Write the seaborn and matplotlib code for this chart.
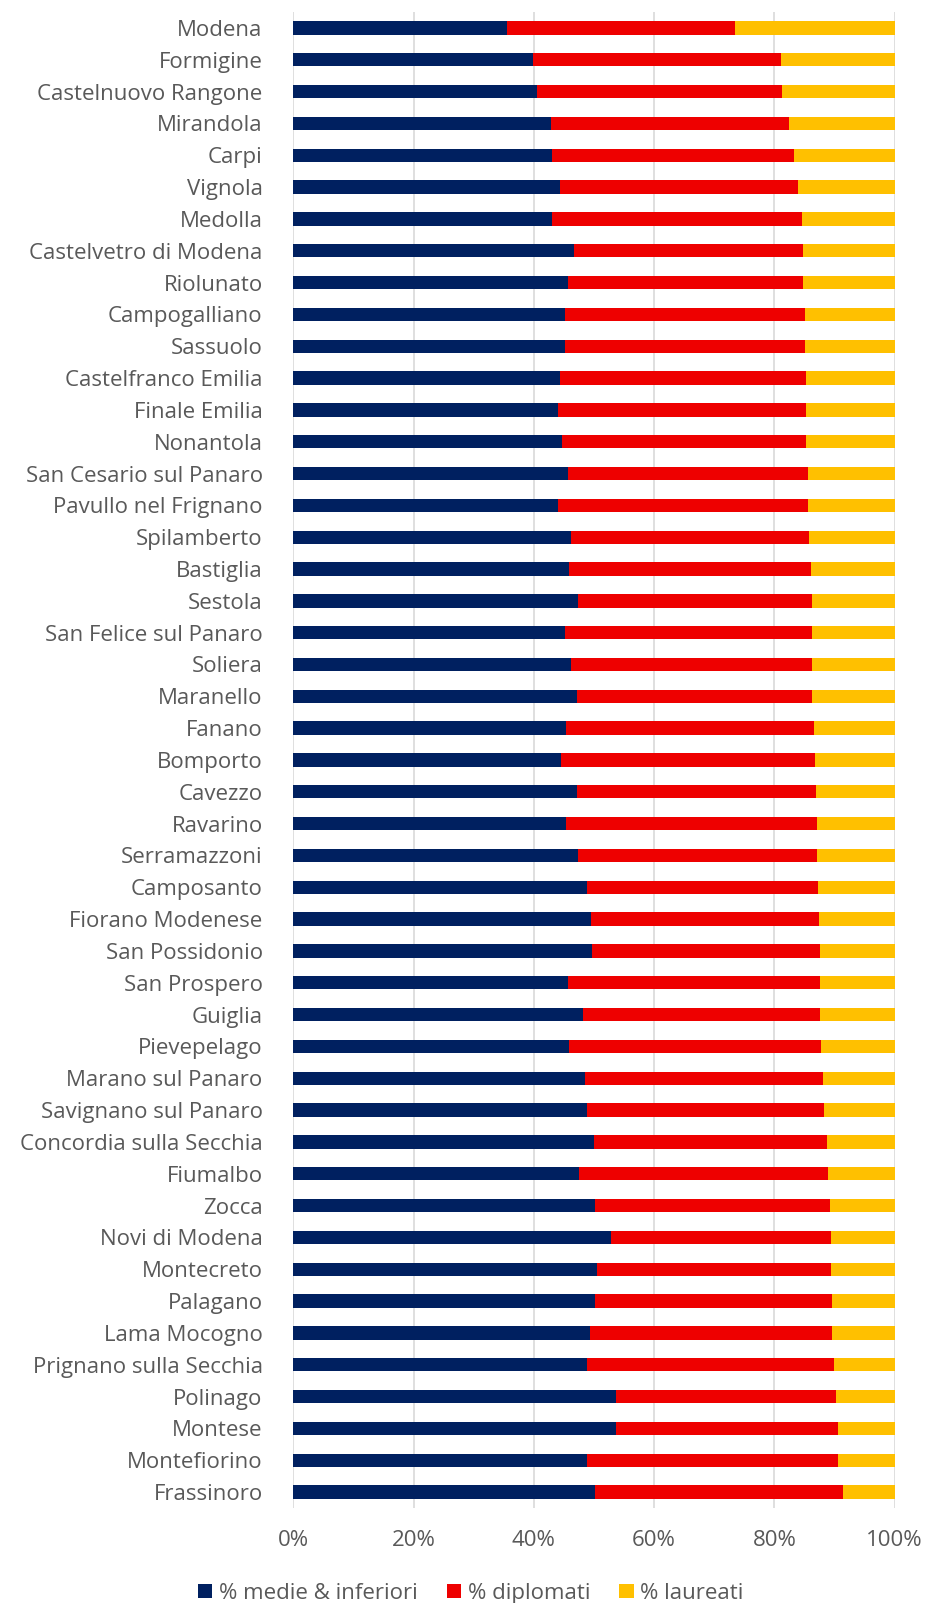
import pandas as pd
import numpy as np
import seaborn as sns
import matplotlib.pyplot as plt
from matplotlib.patches import Patch

# ---- data (percent) ----
comuni = ['Modena', 'Formigine', 'Castelnuovo Rangone', 'Mirandola', 'Carpi', 'Vignola', 'Medolla',
          'Castelvetro di Modena', 'Riolunato', 'Campogalliano', 'Sassuolo', 'Castelfranco Emilia',
          'Finale Emilia', 'Nonantola', 'San Cesario sul Panaro', 'Pavullo nel Frignano', 'Spilamberto',
          'Bastiglia', 'Sestola', 'San Felice sul Panaro', 'Soliera', 'Maranello', 'Fanano', 'Bomporto',
          'Cavezzo', 'Ravarino', 'Serramazzoni', 'Camposanto', 'Fiorano Modenese', 'San Possidonio',
          'San Prospero', 'Guiglia', 'Pievepelago', 'Marano sul Panaro', 'Savignano sul Panaro',
          'Concordia sulla Secchia', 'Fiumalbo', 'Zocca', 'Novi di Modena', 'Montecreto', 'Palagano',
          'Lama Mocogno', 'Prignano sulla Secchia', 'Polinago', 'Montese', 'Montefiorino', 'Frassinoro']

medie = [35.6, 39.9, 40.5, 42.9, 43.0, 44.4, 43.0, 46.6, 45.6, 45.1, 45.1, 44.4, 44.0, 44.7, 45.6, 44.0,
         46.1, 45.9, 47.3, 45.1, 46.1, 47.1, 45.4, 44.5, 47.1, 45.4, 47.4, 48.8, 49.5, 49.7, 45.7, 48.1,
         45.9, 48.5, 48.8, 50.0, 47.5, 50.2, 52.9, 50.5, 50.1, 49.4, 48.9, 53.6, 53.7, 48.9, 50.2]

diplomati = [37.9, 41.2, 40.8, 39.5, 40.3, 39.6, 41.5, 38.2, 39.2, 39.9, 39.9, 40.8, 41.3, 40.6, 39.9, 41.5,
             39.7, 40.1, 38.9, 41.1, 40.2, 39.2, 41.1, 42.2, 39.8, 41.6, 39.6, 38.4, 37.9, 37.8, 41.8, 39.4,
             41.8, 39.6, 39.4, 38.7, 41.4, 39.1, 36.5, 38.9, 39.5, 40.2, 41.0, 36.6, 36.8, 41.7, 41.2]

laureati = [26.5, 18.9, 18.7, 17.6, 16.7, 16.0, 15.5, 15.2, 15.2, 15.0, 15.0, 14.8, 14.7, 14.7, 14.5, 14.5,
            14.2, 14.0, 13.8, 13.8, 13.7, 13.7, 13.5, 13.3, 13.1, 13.0, 13.0, 12.8, 12.6, 12.5, 12.5, 12.5,
            12.3, 11.9, 11.8, 11.3, 11.1, 10.7, 10.6, 10.6, 10.4, 10.4, 10.1, 9.8, 9.5, 9.4, 8.6]

serie = ['% medie & inferiori', '% diplomati', '% laureati']
colori = ['#002060', '#EE0000', '#FFC000']

df = pd.DataFrame({'comune': comuni, serie[0]: medie, serie[1]: diplomati, serie[2]: laureati})
# cumulative ends for stacking (drawn back to front)
df['c1'] = df[serie[0]]
df['c2'] = df['c1'] + df[serie[1]]
df['c3'] = df['c2'] + df[serie[2]]

testo = '#595959'
plt.rcParams['font.family'] = ['Open Sans', 'DejaVu Sans']

fig = plt.figure(figsize=(9.27, 16.03), dpi=100)
ax = fig.add_axes([0.3163, 0.0593, 0.6489, 0.9332])

for col, c in zip(['c3', 'c2', 'c1'], colori[::-1]):
    sns.barplot(data=df, y='comune', x=col, orient='h', color=c, width=0.42,
                saturation=1, ax=ax, zorder=3)

ax.set_xlim(0, 100)
ax.set_ylim(len(comuni) - 0.5, -0.5)
ax.set_xticks([0, 20, 40, 60, 80, 100])
ax.set_xticklabels([f'{v}%' for v in [0, 20, 40, 60, 80, 100]])
ax.xaxis.grid(True, color='#D9D9D9', linewidth=1.2, zorder=0)
ax.set_axisbelow(True)
ax.set_xlabel('')
ax.set_ylabel('')
for s in ax.spines.values():
    s.set_visible(False)
ax.tick_params(axis='y', length=0, pad=22, labelsize=16, labelcolor=testo)
ax.tick_params(axis='x', length=0, pad=16, labelsize=16, labelcolor=testo)

handles = [Patch(facecolor=c, label=l) for c, l in zip(colori, serie)]
fig.legend(handles=handles, loc='lower center', bbox_to_anchor=(0.508, -0.013), ncol=3, frameon=False,
           fontsize=16, labelcolor=testo, handlelength=0.65, handleheight=0.65, handletextpad=0.3,
           columnspacing=1.3)

plt.savefig('out.png', dpi=100)
